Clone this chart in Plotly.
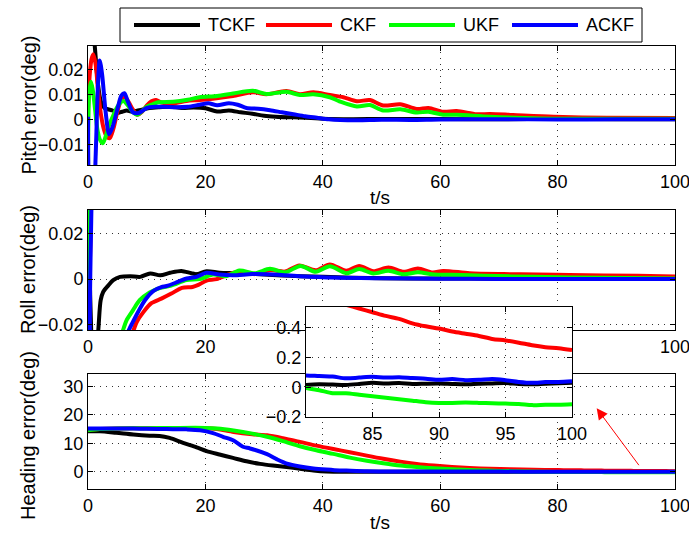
import plotly.graph_objects as go

# ---------------- data ----------------
series_names = ["TCKF", "CKF", "UKF", "ACKF"]
series_colors = ["#000000", "#ff0000", "#00ff00", "#0000ff"]

x_ticks = [0, 20, 40, 60, 80, 100]

# Pitch error (deg)
pitch_t_tckf = [0, 0.5, 1.0, 1.3, 1.7, 2.2, 2.8, 3.4, 4.2, 5.0, 5.8, 6.6, 7.5, 8.5, 9.5, 10.5, 12, 14, 16, 18,
                20, 22, 24, 26, 28, 30, 32, 34, 36, 38, 40, 45, 50, 60, 70, 80, 90, 100]
pitch_tckf = [0.045, 0.04, 0.033, 0.025, 0.014, 0.007, 0.0045, 0.004, 0.0035, 0.0025, 0.003, 0.0035, 0.003,
              0.0035, 0.004, 0.0045, 0.0048, 0.005, 0.0045, 0.0047, 0.0044, 0.0031, 0.0035, 0.0028, 0.0022,
              0.0014, 0.0010, 0.0008, 0.0007, 0.0005, 0.0002, 0.0, 0.0001, 0.0001, 0.0, 0.0001, 0.0, 0.0]
pitch_t_ckf = [0, 0.3, 0.6, 0.9, 1.3, 1.7, 2.2, 2.7, 3.2, 3.7, 4.3, 5.0, 5.6, 6.2, 6.9, 7.6, 8.4, 9.2, 10.0,
               10.8, 11.6, 12.5, 14.5, 16.8, 19, 21.9, 24.7, 28.1, 30.4, 33.8, 36.1, 38.4, 41.2, 43.5, 45.8,
               48, 50.3, 53.2, 56, 58, 60.5, 62.8, 66.2, 68.5, 72.4, 79.3, 88.4, 100]
pitch_ckf = [0.004, 0.018, 0.024, 0.026, 0.022, 0.012, 0.002, -0.004, -0.007, -0.0076, -0.004, 0.003, 0.0075,
             0.0092, 0.007, 0.004, 0.0018, 0.003, 0.0055, 0.0072, 0.0077, 0.0067, 0.0064, 0.0073, 0.0077,
             0.0084, 0.0093, 0.0108, 0.0100, 0.0113, 0.0100, 0.0108, 0.0097, 0.0088, 0.0072, 0.0077, 0.0055,
             0.0060, 0.0041, 0.0045, 0.0030, 0.0033, 0.0020, 0.0021, 0.0017, 0.0010, 0.0006, 0.0005]
pitch_t_ukf = [0, 0.2, 0.5, 0.8, 1.2, 1.6, 2.0, 2.5, 3.0, 3.5, 4.2, 5.0, 5.6, 6.1, 6.8, 7.6, 8.4, 9.2, 10, 11,
               12, 14.5, 17, 19, 22, 24.7, 28.1, 30.4, 33.8, 36.1, 38.4, 41.2, 42.9, 45.8, 48, 50.3, 53.2, 56,
               58, 60.5, 62.8, 68.5, 77, 88, 100]
pitch_ukf = [-0.02, 0.01, 0.015, 0.012, 0.004, -0.004, -0.008, -0.0096, -0.007, -0.003, 0.001, 0.005, 0.0068,
             0.0073, 0.0055, 0.003, 0.0018, 0.0032, 0.005, 0.006, 0.0068, 0.007, 0.0078, 0.0088, 0.0093,
             0.0103, 0.0114, 0.0101, 0.0110, 0.0097, 0.0100, 0.0088, 0.0071, 0.0051, 0.0057, 0.0035, 0.0040,
             0.0027, 0.0030, 0.0018, 0.0018, 0.0010, 0.0003, 0.0002, 0.0002]
pitch_t_ackf = [0, 0.3, 0.9, 1.3, 1.7, 2.0, 2.4, 3.0, 3.6, 4.2, 5.0, 5.7, 6.2, 6.8, 7.7, 8.6, 10, 11.5, 13, 15,
                17, 19, 20.5, 22, 24, 25.5, 27, 29, 31, 33, 35, 37, 39, 41, 43, 46, 50, 55, 60, 70, 80, 90, 100]
pitch_ackf = [0.001, -0.03, -0.035, -0.015, 0.014, 0.0235, 0.018, 0.003, -0.006, -0.003, 0.004, 0.0095, 0.0104,
              0.007, 0.0027, 0.0025, 0.0045, 0.005, 0.005, 0.0048, 0.005, 0.0058, 0.0064, 0.0056, 0.0064,
              0.0058, 0.0045, 0.0042, 0.0036, 0.0028, 0.0020, 0.0012, 0.0006, 0.0, -0.0003, -0.0004, -0.0002,
              -0.0003, -0.0001, 0.0, -0.0001, 0.0, 0.0]

# Roll error (deg)
roll_t_tckf = [0, 0.3, 1.0, 1.76, 2.16, 2.6, 3.5, 4.3, 5.45, 7.2, 8.9, 10.6, 12.3, 14, 15.9, 17.6, 18.5, 20.2,
               22.4, 24.7, 27, 30, 33, 36, 40, 45, 50, 60, 70, 80, 90, 100]
roll_tckf = [0.06, 0.0, -0.045, -0.022, -0.0092, -0.0055, -0.0026, -0.0004, 0.001, 0.0013, 0.001, 0.0025,
             0.0017, 0.0028, 0.0036, 0.0026, 0.0022, 0.0035, 0.0028, 0.0026, 0.0024, 0.002, 0.0016, 0.0013,
             0.001, 0.0006, 0.0004, 0.0003, 0.0002, 0.0002, 0.0002, 0.0002]
roll_t_ckf = [0, 0.5, 0.8, 4, 7.8, 8.3, 9.4, 10.8, 12.5, 14.2, 16.0, 17.8, 18.8, 20.2, 21.9, 24.1, 25.9, 28.4,
              31, 33.6, 36, 38.8, 41.2, 44, 46.2, 48.6, 51.2, 53.8, 56.2, 58.7, 60.5, 65, 70.8, 76.5, 82,
              93.6, 100]
roll_ckf = [0.05, 0.04, -0.06, -0.05, -0.022, -0.0187, -0.0145, -0.0105, -0.0085, -0.0063, -0.0038, -0.0034,
            -0.0025, -0.0006, 0.0, 0.0022, 0.0033, 0.0022, 0.0040, 0.0033, 0.0060, 0.0039, 0.0064, 0.0037,
            0.0058, 0.0035, 0.0051, 0.0032, 0.0047, 0.0029, 0.0036, 0.0026, 0.0022, 0.0020, 0.0018, 0.0015,
            0.0012]
roll_t_ukf = [0, 0.3, 0.7, 3, 6.0, 6.6, 7.7, 8.8, 10.5, 12.2, 14.2, 16.8, 19, 21.3, 23.5, 25.8, 28.4, 31, 33.6,
              36.2, 38.8, 41.2, 44, 46.2, 48.6, 51.2, 53.8, 56.2, 59, 62, 67.5, 76, 87.4, 100]
roll_ukf = [0.05, 0.04, -0.06, -0.045, -0.022, -0.0178, -0.0134, -0.0092, -0.0058, -0.0039, -0.0028, -0.0004,
            0.0, 0.0020, 0.0013, 0.0038, 0.0026, 0.0045, 0.0030, 0.0058, 0.0032, 0.0056, 0.0026, 0.0044,
            0.0025, 0.0037, 0.0021, 0.0030, 0.0020, 0.0019, 0.0015, 0.0010, 0.0006, 0.0003]
roll_t_ackf = [0, 0.6, 1.1, 4, 7.0, 7.5, 8.6, 9.7, 11.1, 12.5, 13.4, 15.3, 16.8, 18.5, 20.2, 22.4, 24.7, 28,
               30.4, 36, 41.8, 50, 60, 70, 80, 90, 100]
roll_ackf = [0.07, 0.05, -0.05, -0.04, -0.022, -0.0194, -0.014, -0.0092, -0.0052, -0.0035, -0.003, -0.0012,
             0.0003, 0.001, 0.0028, 0.002, 0.0017, 0.0022, 0.0021, 0.0013, 0.0007, 0.0004, 0.0002, 0.0001,
             0.0001, 0.0001, 0.0001]

# Heading error (deg)
head_t_late = [80, 81, 82, 83, 84, 85, 86, 87, 88, 89, 90, 91, 92, 93, 94, 95, 96, 97, 98, 99, 100]

head_t_tckf = [0, 2, 4.8, 7.7, 10.5, 12.2, 13.9, 16.2, 18.5, 20.2, 22.4, 24.7, 27, 29.3, 31.5, 33.8, 36.1,
               38.4, 40.6, 45, 50, 60, 70] + head_t_late
head_tckf = [14.2, 14.2, 13.7, 13.1, 12.7, 12.6, 11.9, 10.2, 8.6, 7.3, 6.1, 4.9, 3.7, 2.8, 2.2, 1.7, 1.1, 0.5,
             0.15, 0.05, 0.03, 0.02, 0.02,
             0.016, 0.02, 0.018, 0.016, 0.022, 0.03, 0.025, 0.028, 0.022, 0.024, 0.025, 0.022, 0.02, 0.024,
             0.026, 0.028, 0.022, 0.02, 0.024, 0.027, 0.03]
head_t_ckf = [0, 2, 5, 10, 15, 20, 22, 24.8, 28, 30.5, 33.2, 36.1, 38.9, 41.8, 44.6, 47.5, 50.3, 53.2, 56,
              58.9, 62, 65, 68.5, 72, 76] + head_t_late
head_ckf = [14.8, 15.0, 15.2, 15.3, 15.3, 15.3, 15.0, 14.0, 13.2, 12.8, 11.8, 10.5, 9.2, 8.0, 6.9, 5.7, 4.6,
            3.6, 2.8, 2.2, 1.7, 1.35, 1.1, 0.9, 0.75,
            0.63, 0.6, 0.58, 0.555, 0.53, 0.505, 0.48, 0.46, 0.43, 0.41, 0.395, 0.375, 0.36, 0.345, 0.325,
            0.315, 0.3, 0.283, 0.27, 0.262, 0.25]
head_t_ukf = [0, 2, 5, 10, 15, 20, 22, 24.8, 28, 30.5, 33.2, 36.1, 38.9, 41.8, 44.6, 47.5, 50.3, 53.2, 56,
              58.9, 62, 66, 70, 75] + head_t_late
head_ukf = [14.6, 15.0, 15.2, 15.3, 15.4, 15.4, 15.2, 14.5, 13.4, 12.3, 10.8, 9.0, 7.6, 6.3, 5.0, 3.9, 3.0, 2.2,
            1.7, 1.3, 0.95, 0.6, 0.35, 0.15,
            -0.005, -0.02, -0.04, -0.04, -0.05, -0.06, -0.07, -0.08, -0.09, -0.1, -0.105, -0.105, -0.103,
            -0.105, -0.108, -0.11, -0.112, -0.12, -0.118, -0.118, -0.115]
head_t_ackf = [0, 2, 5, 7.7, 10, 13.4, 16.8, 19.1, 21.3, 23, 24.8, 26.4, 27.6, 30.5, 32.2, 33.9, 36.1, 38.4,
               40.6, 42, 44, 47.5, 50, 55, 60, 70] + head_t_late
head_ackf = [15.2, 15.2, 15.2, 15.2, 15.1, 15.0, 14.9, 14.6, 13.6, 12.3, 11.0, 8.8, 8.2, 6.2, 4.4, 2.9, 1.9,
             1.2, 0.8, 0.6, 0.45, 0.2, 0.15, 0.12, 0.1, 0.09,
             0.08, 0.075, 0.072, 0.06, 0.065, 0.07, 0.065, 0.068, 0.062, 0.058, 0.05, 0.055, 0.048, 0.05,
             0.056, 0.048, 0.036, 0.03, 0.035, 0.036, 0.04]

pitch_yticks = [-0.01, 0, 0.01, 0.02]
roll_yticks = [-0.02, 0, 0.02]
head_yticks = [0, 10, 20, 30]
inset_xticks = [85, 90, 95, 100]
inset_yticks = [-0.2, 0, 0.2, 0.4]

# ---------------- layout helpers ----------------
W, H = 689, 533


def px(x):
    return x / W


def py(y):
    return 1 - y / H


FONT = "Liberation Sans, Arial, Helvetica, sans-serif"
TICK_FONT = dict(family=FONT, size=18, color="black")

fig = go.Figure()

panels = [
    ("x", "y", [(pitch_t_tckf, pitch_tckf), (pitch_t_ckf, pitch_ckf), (pitch_t_ukf, pitch_ukf),
                (pitch_t_ackf, pitch_ackf)]),
    ("x2", "y2", [(roll_t_tckf, roll_tckf), (roll_t_ckf, roll_ckf), (roll_t_ukf, roll_ukf),
                  (roll_t_ackf, roll_ackf)]),
    ("x3", "y3", [(head_t_tckf, head_tckf), (head_t_ckf, head_ckf), (head_t_ukf, head_ukf),
                  (head_t_ackf, head_ackf)]),
    ("x4", "y4", [(head_t_tckf, head_tckf), (head_t_ckf, head_ckf), (head_t_ukf, head_ukf),
                  (head_t_ackf, head_ackf)]),
]

for xa, ya, data in panels:
    for (t, v), name, color in zip(data, series_names, series_colors):
        fig.add_trace(go.Scatter(x=t, y=v, mode="lines", name=name, xaxis=xa, yaxis=ya,
                                 line=dict(color=color, width=4, shape="spline", smoothing=0.8),
                                 showlegend=False, hoverinfo="skip"))


def axis_style(**kw):
    base = dict(showline=True, linecolor="black", linewidth=1, mirror="ticks",
                ticks="inside", ticklen=5, tickcolor="black", tickwidth=1,
                showgrid=True, gridcolor="#333333", gridwidth=1, griddash="1px,5px",
                zeroline=False, tickfont=TICK_FONT, fixedrange=True, automargin=False,
                ticklabeloverflow="allow")
    base.update(kw)
    return base


X_DOM = [px(88), px(675)]

fig.update_layout(
    width=W, height=H,
    margin=dict(l=0, r=0, t=0, b=0),
    paper_bgcolor="white", plot_bgcolor="white",
    showlegend=False,
    font=dict(family=FONT, size=18, color="black"),
    xaxis=axis_style(domain=X_DOM, range=[0, 100], tickvals=x_ticks, anchor="y"),
    yaxis=axis_style(domain=[py(165), py(46)], range=[-0.0183, 0.0293], tickvals=pitch_yticks,
                     anchor="x"),
    xaxis2=axis_style(domain=X_DOM, range=[0, 100], tickvals=x_ticks, anchor="y2"),
    yaxis2=axis_style(domain=[py(330), py(210)], range=[-0.0222, 0.0302], tickvals=roll_yticks,
                      anchor="x2"),
    xaxis3=axis_style(domain=X_DOM, range=[0, 100], tickvals=x_ticks, anchor="y3"),
    yaxis3=axis_style(domain=[py(489), py(374)], range=[-6, 34.3], tickvals=head_yticks, anchor="x3"),
    xaxis4=axis_style(domain=[px(306), px(572)], range=[80, 100], tickvals=inset_xticks, anchor="y4"),
    yaxis4=axis_style(domain=[py(417), py(307)], range=[-0.2, 0.54], tickvals=inset_yticks, anchor="x4"),
)

annotations = []
# y-axis titles
for text, yc in [("Pitch error(deg)", 105.5), ("Roll error(deg)", 270), ("Heading error(deg)", 436)]:
    annotations.append(dict(text=text, x=px(28), y=py(yc), xref="paper", yref="paper",
                            textangle=-90, showarrow=False, xanchor="center", yanchor="middle",
                            font=dict(family=FONT, size=20, color="black")))
# x-axis titles
for yc in [197, 522]:
    annotations.append(dict(text="t/s", x=px(380), y=py(yc), xref="paper", yref="paper",
                            showarrow=False, xanchor="center", yanchor="middle",
                            font=dict(family=FONT, size=19, color="black")))
# arrow pointing from the heading curves at t=100 to the zoomed view
annotations.append(dict(text="", x=px(596.7), y=py(408.3), xref="paper", yref="paper",
                        ax=43.3, ay=58.4, showarrow=True, arrowhead=2, arrowsize=2.2,
                        arrowwidth=1, arrowcolor="red", standoff=0))

# legend box
shapes = [dict(type="rect", xref="paper", yref="paper", x0=px(120), x1=px(642), y0=py(42), y1=py(8),
               line=dict(color="black", width=1), fillcolor="white", layer="above")]
legend_line_x = [134, 266, 389, 512]
for lx, name, color in zip(legend_line_x, series_names, series_colors):
    shapes.append(dict(type="line", xref="paper", yref="paper", x0=px(lx), x1=px(lx + 66),
                       y0=py(25), y1=py(25), line=dict(color=color, width=4), layer="above"))
    annotations.append(dict(text=name, x=px(lx + 72), y=py(25), xref="paper", yref="paper",
                            showarrow=False, xanchor="left", yanchor="middle",
                            font=dict(family=FONT, size=18, color="black")))

fig.update_layout(annotations=annotations, shapes=shapes)

fig.write_html("out.html")
